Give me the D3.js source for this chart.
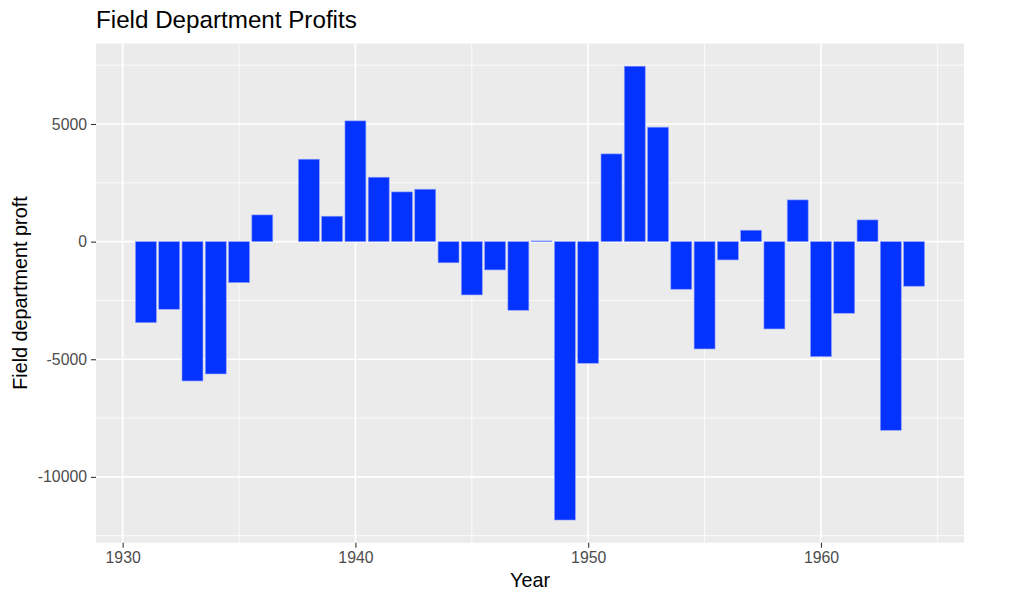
<!DOCTYPE html>
<html>
<head>
<meta charset="utf-8">
<title>Field Department Profits</title>
<script src="https://cdn.jsdelivr.net/npm/d3@7"></script>
<style>
    body { margin: 0; background: #fff; }
    text { font-family: "Liberation Sans", Arial, sans-serif; }
    .tick-label { fill: #4d4d4d; font-size: 15.8px; }
    .axis-title { fill: #000; font-size: 19.8px; }
    .title { fill: #000; font-size: 24.2px; }
</style>
</head>
<body>
<script>
    // data
    const years = d3.range(1931, 1965);
    const profits = [
        -3444, -2875, -5923, -5625, -1743, 1135, 0, 3503, 1080, 5132,
        2738, 2113, 2228, -900, -2266, -1203, -2917, 30, -11833, -5170,
        3729, 7457, 4864, -2024, -4562, -778, 485, -3712, 1773, -4889,
        -3044, 923, -8019, -1896
    ];
    const xMajor = [1930, 1940, 1950, 1960];
    const xMinor = [1935, 1945, 1955, 1965];
    const yMajor = [5000, 0, -5000, -10000];
    const yMinor = [7500, 2500, -2500, -7500, -12500];

    const W = 1024, H = 603;
    const pLeft = 96, pRight = 964, pTop = 43.5, pBottom = 542.7;
    const barWidth = 0.9;

    const svg = d3.select("body").append("svg").attr("width", W).attr("height", H);

    // ggplot style 5% expansion
    const xMin = d3.min(years) - barWidth / 2, xMax = d3.max(years) + barWidth / 2;
    const xPad = (xMax - xMin) * 0.05;
    const x = d3.scaleLinear().domain([xMin - xPad, xMax + xPad]).range([pLeft, pRight]);

    const yLo = Math.min(0, d3.min(profits)), yHi = Math.max(0, d3.max(profits));
    const yPad = (yHi - yLo) * 0.05;
    const y = d3.scaleLinear().domain([yLo - yPad, yHi + yPad]).range([pBottom, pTop]);

    svg.append("rect")
        .attr("x", pLeft).attr("y", pTop)
        .attr("width", pRight - pLeft).attr("height", pBottom - pTop)
        .attr("fill", "#ebebeb");

    const grid = svg.append("g");
    grid.selectAll(".ymin").data(yMinor).enter().append("line")
        .attr("x1", pLeft).attr("x2", pRight)
        .attr("y1", d => y(d)).attr("y2", d => y(d))
        .attr("stroke", "#fff").attr("stroke-width", 0.8);
    grid.selectAll(".xmin").data(xMinor).enter().append("line")
        .attr("y1", pTop).attr("y2", pBottom)
        .attr("x1", d => x(d)).attr("x2", d => x(d))
        .attr("stroke", "#fff").attr("stroke-width", 0.8);
    grid.selectAll(".ymaj").data(yMajor).enter().append("line")
        .attr("x1", pLeft).attr("x2", pRight)
        .attr("y1", d => y(d)).attr("y2", d => y(d))
        .attr("stroke", "#fff").attr("stroke-width", 1.7);
    grid.selectAll(".xmaj").data(xMajor).enter().append("line")
        .attr("y1", pTop).attr("y2", pBottom)
        .attr("x1", d => x(d)).attr("x2", d => x(d))
        .attr("stroke", "#fff").attr("stroke-width", 1.7);

    // bars
    svg.append("g").selectAll("rect")
        .data(years.map((yr, i) => ({year: yr, value: profits[i]})))
        .enter().append("rect")
        .attr("x", d => x(d.year - barWidth / 2))
        .attr("width", d => x(d.year + barWidth / 2) - x(d.year - barWidth / 2))
        .attr("y", d => y(Math.max(0, d.value)))
        .attr("height", d => Math.abs(y(d.value) - y(0)))
        .attr("fill", "#0433ff")
        .attr("stroke", "#8f9dff")
        .attr("stroke-width", 0.6);

    // axes
    const yAxis = d3.axisLeft(y).tickValues(yMajor).tickSize(5).tickPadding(4).tickFormat(d => String(d));
    const gy = svg.append("g").attr("transform", `translate(${pLeft},0)`).call(yAxis);
    const xAxis = d3.axisBottom(x).tickValues(xMajor).tickSize(5).tickPadding(4).tickFormat(d => String(d));
    const gx = svg.append("g").attr("transform", `translate(0,${pBottom})`).call(xAxis);
    [gy, gx].forEach(g => {
        g.select(".domain").remove();
        g.selectAll(".tick line").attr("stroke", "#333").attr("stroke-width", 1.1);
        g.selectAll(".tick text").attr("class", "tick-label").attr("fill", "#4d4d4d");
    });

    svg.append("text").attr("class", "title")
        .attr("x", pLeft).attr("y", 28)
        .text("Field Department Profits");

    svg.append("text").attr("class", "axis-title")
        .attr("x", (pLeft + pRight) / 2).attr("y", 587)
        .attr("text-anchor", "middle")
        .text("Year");

    svg.append("text").attr("class", "axis-title")
        .attr("transform", `translate(27,${(pTop + pBottom) / 2}) rotate(-90)`)
        .attr("text-anchor", "middle")
        .text("Field department proft");
</script>
</body>
</html>
